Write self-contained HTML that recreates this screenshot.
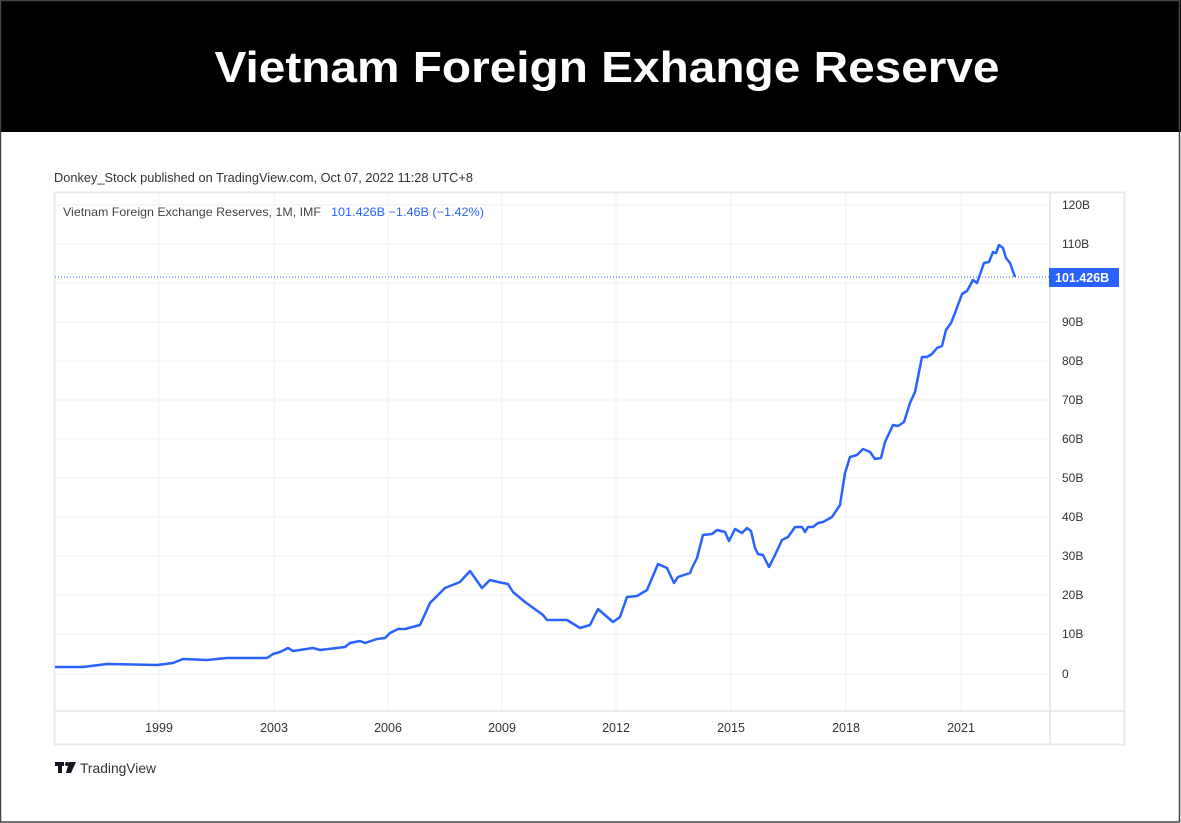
<!DOCTYPE html>
<html><head><meta charset="utf-8"><style>
html,body{margin:0;padding:0;background:#fff;}
svg{display:block;}
</style></head><body>
<svg width="1181" height="823" viewBox="0 0 1181 823" xmlns="http://www.w3.org/2000/svg" font-family="Liberation Sans, sans-serif">
<rect x="0" y="0" width="1181" height="823" fill="#fff"/>
<rect x="0" y="0" width="1181" height="132" fill="#000"/>
<rect x="0.5" y="0.5" width="1179" height="821.5" fill="none" stroke="#444" stroke-width="1.5"/>
<text x="607" y="82" text-anchor="middle" fill="#fff" font-size="44" font-weight="bold" textLength="785" lengthAdjust="spacingAndGlyphs">Vietnam Foreign Exhange Reserve</text>
<text x="54" y="182" fill="#333" font-size="12.5" textLength="419" lengthAdjust="spacingAndGlyphs">Donkey_Stock published on TradingView.com, Oct 07, 2022 11:28 UTC+8</text>
<!-- chart frame -->
<rect x="54.5" y="192.5" width="1070" height="552" fill="none" stroke="#e6e8ef" stroke-width="2"/>
<g stroke="#f0f1f4" stroke-width="1">
<line x1="55" x2="1050" y1="205" y2="205"/><line x1="55" x2="1050" y1="244" y2="244"/><line x1="55" x2="1050" y1="283" y2="283"/><line x1="55" x2="1050" y1="322" y2="322"/><line x1="55" x2="1050" y1="361" y2="361"/><line x1="55" x2="1050" y1="400" y2="400"/><line x1="55" x2="1050" y1="439" y2="439"/><line x1="55" x2="1050" y1="478" y2="478"/><line x1="55" x2="1050" y1="517" y2="517"/><line x1="55" x2="1050" y1="556" y2="556"/><line x1="55" x2="1050" y1="595" y2="595"/><line x1="55" x2="1050" y1="634" y2="634"/><line x1="55" x2="1050" y1="674" y2="674"/>
<line x1="159" x2="159" y1="193" y2="711"/><line x1="274" x2="274" y1="193" y2="711"/><line x1="388" x2="388" y1="193" y2="711"/><line x1="502" x2="502" y1="193" y2="711"/><line x1="616" x2="616" y1="193" y2="711"/><line x1="731" x2="731" y1="193" y2="711"/><line x1="846" x2="846" y1="193" y2="711"/><line x1="961" x2="961" y1="193" y2="711"/>
</g>
<line x1="55" x2="1125" y1="711" y2="711" stroke="#e0e3eb" stroke-width="1.5"/>
<line x1="1050" x2="1050" y1="193" y2="745" stroke="#e0e3eb" stroke-width="1.5"/>
<text x="63" y="216" font-size="12" fill="#444" textLength="258" lengthAdjust="spacingAndGlyphs">Vietnam Foreign Exchange Reserves, 1M, IMF</text>
<text x="331" y="216" font-size="12" fill="#2962ff" textLength="153" lengthAdjust="spacingAndGlyphs">101.426B  −1.46B (−1.42%)</text>
<g font-size="12" fill="#333">
<text x="1062" y="209">120B</text><text x="1062" y="248">110B</text><text x="1062" y="326">90B</text><text x="1062" y="365">80B</text><text x="1062" y="404">70B</text><text x="1062" y="443">60B</text><text x="1062" y="482">50B</text><text x="1062" y="521">40B</text><text x="1062" y="560">30B</text><text x="1062" y="599">20B</text><text x="1062" y="638">10B</text><text x="1062" y="678">0</text>
</g>
<g font-size="12.5" fill="#333" text-anchor="middle">
<text x="159" y="732">1999</text><text x="274" y="732">2003</text><text x="388" y="732">2006</text><text x="502" y="732">2009</text><text x="616" y="732">2012</text><text x="731" y="732">2015</text><text x="846" y="732">2018</text><text x="961" y="732">2021</text>
</g>
<line x1="55" x2="1050" y1="277" y2="277" stroke="#2962ff" stroke-width="1" stroke-dasharray="1,2"/>
<rect x="1049" y="268" width="70" height="19" fill="#2962ff"/>
<text x="1055" y="282" font-size="12.5" fill="#fff" font-weight="bold">101.426B</text>
<polyline fill="none" stroke="#2962ff" stroke-width="2.5" stroke-linejoin="round" points="55,667 83,667 107,664 157,665 173,663 183,659 207,660 227,658 267,658 273,654 280,652 288,648 293,651 313,648 320,650 345,647 350,643 360,641 365,643 377,639 385,638 390,633 398,629 405,629 420,625 430,603 445,588 460,582 470,571 482,588 490,580 498,582 508,584 513,592 525,602 543,615 547,620 567,620 580,628 590,625 598,609 613,622 620,617 627,597 637,596 647,590 658,564 667,568 674,583 678,577 690,573 692,568 697,558 703,535 712,534 717,530 725,532 729,541 735,529 742,533 747,528 751,531 755,548 758,554 763,555 769,567 775,555 782,540 788,537 795,527 802,527 805,532 808,527 813,527 818,523 823,522 832,517 840,505 845,473 850,457 857,455 863,449 870,452 875,459 881,458 885,442 893,425 898,426 904,422 910,403 915,392 922,357 927,357 932,354 937,348 942,346 946,330 951,323 955,313 962,294 967,291 973,280 977,283 984,263 989,262 993,252 996,253 999,245 1003,248 1006,258 1010,263 1015,277"/>
<!-- TradingView logo -->
<g fill="#131722">
<rect x="55" y="762" width="9" height="4"/><rect x="58" y="762" width="4" height="11"/>
<circle cx="67" cy="764" r="2"/>
<polygon points="69,762 76,762 71,773 66,773"/>
</g>
<text x="80" y="773" font-size="14" fill="#333" textLength="76" lengthAdjust="spacingAndGlyphs">TradingView</text>
</svg>
</body></html>
